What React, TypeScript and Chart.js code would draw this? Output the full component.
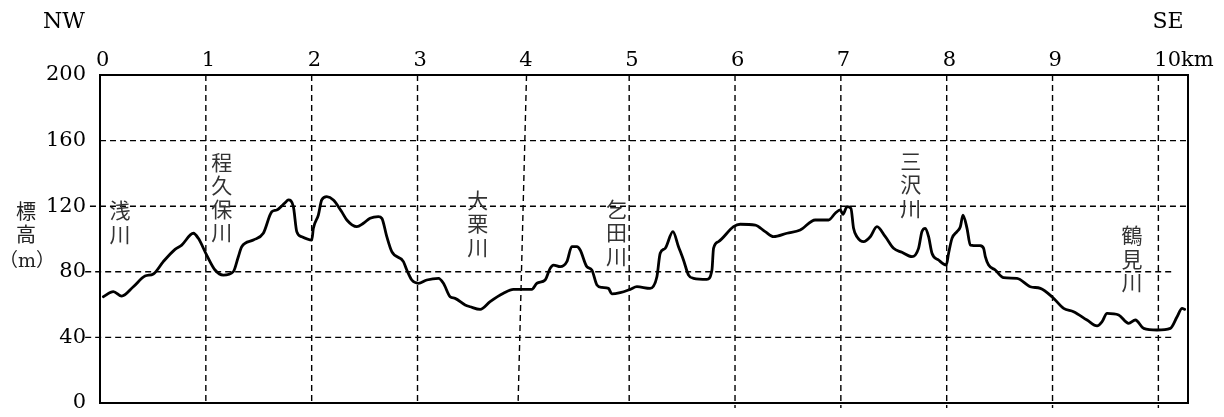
import { useEffect, useRef } from "react";
import { Chart, registerables } from "chart.js";

Chart.register(...registerables);

// Distance along the NW–SE section (km)
const distanceKm = [
  0.031, 0.126, 0.205, 0.315, 0.425, 0.504, 0.598, 0.709, 0.772, 0.882,
  0.929, 1.008, 1.087, 1.165, 1.26, 1.307, 1.339, 1.449, 1.543, 1.623,
  1.67, 1.749, 1.78, 1.827, 1.859, 1.906, 2.001, 2.016, 2.063, 2.095,
  2.143, 2.205, 2.284, 2.332, 2.426, 2.489, 2.552, 2.63, 2.663, 2.71,
  2.757, 2.867, 2.899, 2.946, 3.009, 3.088, 3.198, 3.245, 3.308, 3.355,
  3.45, 3.497, 3.592, 3.686, 3.812, 3.906, 4.08, 4.128, 4.206, 4.253,
  4.285, 4.348, 4.411, 4.458, 4.506, 4.537, 4.6, 4.647, 4.695, 4.742,
  4.804, 4.836, 4.915, 5.009, 5.073, 5.198, 5.262, 5.293, 5.34, 5.413,
  5.466, 5.513, 5.561, 5.608, 5.734, 5.782, 5.797, 5.844, 5.986, 6.049,
  6.191, 6.285, 6.364, 6.491, 6.616, 6.758, 6.884, 6.947, 6.994, 7.02,
  7.058, 7.095, 7.12, 7.152, 7.215, 7.278, 7.341, 7.42, 7.498, 7.577,
  7.672, 7.734, 7.766, 7.798, 7.829, 7.861, 7.923, 7.996, 8.018, 8.05,
  8.097, 8.129, 8.154, 8.192, 8.223, 8.318, 8.349, 8.365, 8.396, 8.459,
  8.538, 8.664, 8.79, 8.885, 8.995, 9.105, 9.199, 9.326, 9.421, 9.468,
  9.515, 9.625, 9.719, 9.783, 9.861, 9.988, 10.113, 10.177, 10.224, 10.249,
];

// Ground elevation (m)
const elevationM = [
  64.8, 67.9, 65.2, 70.9, 77.4, 78.7, 86.2, 93.7, 96.3, 103.5,
  100.4, 90.2, 81.1, 78.0, 80.1, 89.2, 95.3, 99.4, 103.5, 116.6,
  117.7, 122.1, 123.8, 119.7, 104.5, 101.4, 99.4, 106.5, 114.6, 123.8,
  125.8, 123.8, 116.6, 111.6, 107.5, 109.6, 112.6, 113.6, 112.6, 101.4,
  92.3, 86.2, 81.1, 75.0, 73.0, 75.0, 76.0, 73.0, 64.8, 63.8,
  59.8, 58.7, 57.1, 61.8, 66.9, 69.3, 69.3, 73.0, 75.0, 82.1,
  84.1, 83.1, 86.2, 95.3, 95.3, 93.3, 83.1, 81.1, 72.0, 70.5,
  69.9, 66.5, 67.3, 69.3, 70.9, 69.9, 77.0, 91.3, 94.3, 104.5,
  95.3, 87.2, 78.0, 76.0, 75.4, 81.1, 94.3, 98.4, 107.5, 109.0,
  108.5, 104.5, 101.4, 103.5, 105.5, 111.6, 111.6, 115.7, 117.7, 115.1,
  119.7, 118.7, 106.5, 101.4, 98.4, 101.4, 107.5, 101.4, 94.3, 91.9,
  89.2, 94.3, 104.5, 106.5, 101.4, 91.3, 87.2, 84.1, 91.3, 100.4,
  104.5, 107.5, 114.6, 106.5, 96.3, 95.9, 94.3, 89.2, 84.1, 81.1,
  76.4, 76.0, 70.9, 69.9, 64.8, 57.7, 55.7, 50.6, 47.0, 49.6,
  54.7, 53.7, 48.6, 50.6, 45.5, 44.5, 45.5, 52.6, 57.7, 57.1,
];

// Axis ticks
const kmTicks = [0, 1, 2, 3, 4, 5, 6, 7, 8, 9, 10];
const elevationTicks = [0, 40, 80, 120, 160, 200];
const kmMax = 10.28;

// Dashed elevation guide lines: level, where each one starts and ends (km)
const levelLines = [40, 80, 120, 160];
const levelLineFrom = [-0.14, -0.14, -0.095, 0];
const levelLineTo = [10.13, 10.13, kmMax, kmMax];

// Dashed distance guide lines: x at the top, x at the foot, and foot elevation
const kmLineTop = [1, 2, 3, 4.03, 5, 6, 7, 8, 9, 10];
const kmLineFoot = [1, 2, 3, 3.95, 5, 6, 7, 8, 9, 10];
const kmLineFootM = [0, 0, 0, -1, 0, -3, -3, -3, -3, -3];

// Rivers crossed by the section, written top to bottom
const riverNames = ["浅川", "程久保川", "大栗川", "乞田川", "三沢川", "鶴見川"];
// Where each name's first character sits (km, m)
const riverKm = [0.19, 1.15, 3.57, 4.88, 7.66, 9.75];
const riverTopM = [117.4, 147.0, 123.8, 118.3, 147.6, 102.4];

const SERIF = '"DejaVu Serif", "Liberation Serif", serif';
const CJK = '"Noto Sans CJK JP", "Noto Sans CJK SC", sans-serif';

const sectionDecor = {
  id: "sectionDecor",
  afterDraw(chart: any) {
    const { ctx, chartArea, scales } = chart;
    const xs = scales.x;
    const ys = scales.y;
    ctx.save();

    // plot frame
    ctx.strokeStyle = "#000";
    ctx.lineWidth = 2;
    ctx.setLineDash([]);
    ctx.strokeRect(chartArea.left, chartArea.top, chartArea.width, chartArea.height);

    // compass directions at both ends
    ctx.fillStyle = "#000";
    ctx.textAlign = "center";
    ctx.textBaseline = "middle";
    ctx.font = `22px ${SERIF}`;
    ctx.fillText("NW", chartArea.left - 36, 22);
    ctx.fillText("SE", chartArea.right - 20, 22);

    // vertical axis title 標高（m）
    ctx.fillStyle = "#222";
    ctx.font = `20px ${CJK}`;
    ctx.fillText("標", chartArea.left - 74, chartArea.top + 136);
    ctx.fillText("高", chartArea.left - 74, chartArea.top + 159);
    ctx.font = `19px "DejaVu Serif", ${CJK}`;
    ctx.fillText("（m）", chartArea.left - 73, chartArea.top + 187);

    // river names, one character per line
    ctx.fillStyle = "#333";
    ctx.font = `21px ${CJK}`;
    riverNames.forEach((name, i) => {
      const px = xs.getPixelForValue(riverKm[i]);
      const py = ys.getPixelForValue(riverTopM[i]);
      Array.from(name).forEach((ch, j) => {
        ctx.fillText(ch, px, py + j * 23.5);
      });
    });

    ctx.restore();
  },
};

export default function App() {
  const canvasRef = useRef<HTMLCanvasElement | null>(null);

  useEffect(() => {
    if (!canvasRef.current) return;

    const guideStyle = {
      borderColor: "#000",
      borderWidth: 1.4,
      borderDash: [6, 4],
      pointRadius: 0,
      fill: false,
      clip: false as any,
      tension: 0,
    };

    const levelSets = levelLines.map((lvl, i) => ({
      ...guideStyle,
      label: `level-${lvl}`,
      data: [
        { x: levelLineFrom[i], y: lvl },
        { x: levelLineTo[i], y: lvl },
      ],
    }));

    const kmSets = kmLineTop.map((top, i) => ({
      ...guideStyle,
      label: `km-${i + 1}`,
      data: [
        { x: top, y: 200 },
        { x: kmLineFoot[i], y: kmLineFootM[i] },
      ],
    }));

    const chart = new Chart(canvasRef.current, {
      type: "line",
      data: {
        datasets: [
          {
            label: "標高",
            data: distanceKm.map((x, i) => ({ x, y: elevationM[i] })),
            borderColor: "#000",
            borderWidth: 2.8,
            pointRadius: 0,
            fill: false,
            cubicInterpolationMode: "monotone",
            borderJoinStyle: "round",
            borderCapStyle: "round",
          },
          ...levelSets,
          ...kmSets,
        ] as any,
      },
      options: {
        responsive: false,
        animation: false,
        events: [],
        layout: { padding: { top: 0, left: 0, right: 36, bottom: 14 } },
        plugins: {
          legend: { display: false },
          tooltip: { enabled: false },
          title: { display: false },
        },
        scales: {
          x: {
            type: "linear",
            position: "top",
            min: 0,
            max: kmMax,
            afterFit: (s: any) => {
              s.height = 75;
              s.paddingLeft = 0;
              s.paddingRight = 0;
            },
            afterBuildTicks: (s: any) => {
              s.ticks = kmTicks.map((v) => ({ value: v }));
            },
            grid: { display: false, drawTicks: false },
            border: { display: false },
            ticks: {
              align: "start",
              labelOffset: -4,
              padding: 2,
              maxRotation: 0,
              autoSkip: false,
              color: "#000",
              font: { family: SERIF, size: 21 },
              callback: (v: any) => (v === 10 ? "10km" : String(v)),
            },
          },
          y: {
            type: "linear",
            min: 0,
            max: 200,
            afterFit: (s: any) => {
              s.width = 100;
              s.paddingTop = 0;
              s.paddingBottom = 0;
            },
            afterBuildTicks: (s: any) => {
              s.ticks = elevationTicks.map((v) => ({ value: v }));
            },
            grid: { display: false, drawTicks: false },
            border: { display: false },
            ticks: {
              padding: 14,
              color: "#000",
              font: { family: SERIF, size: 21 },
            },
          },
        },
      } as any,
      plugins: [sectionDecor],
    });

    return () => chart.destroy();
  }, []);

  return (
    <div
      style={{
        position: "fixed",
        left: 0,
        top: 0,
        width: 1224,
        height: 417,
        background: "#fff",
      }}
    >
      <canvas ref={canvasRef} width={1224} height={417} style={{ display: "block" }} />
    </div>
  );
}
